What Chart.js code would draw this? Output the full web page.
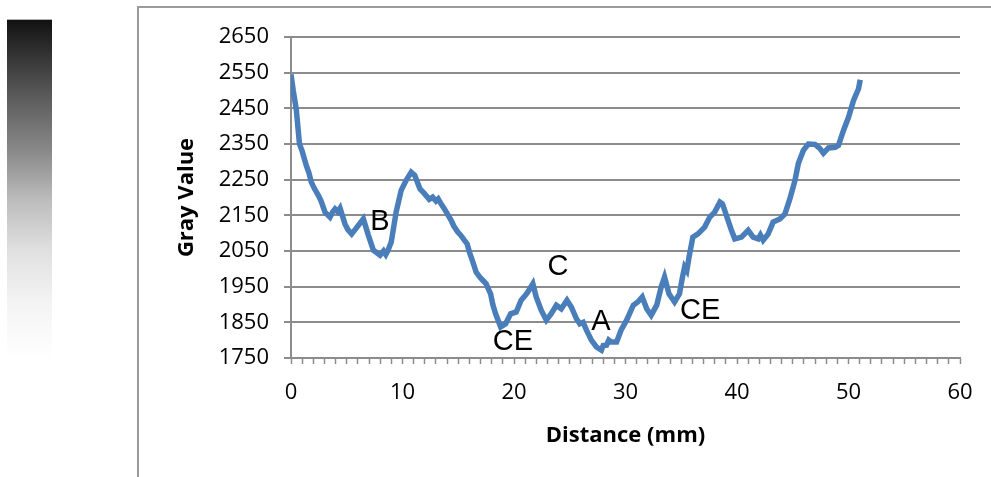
<!DOCTYPE html>
<html>
<head>
<meta charset="utf-8">
<script src="https://cdn.jsdelivr.net/npm/chart.js@4/dist/chart.umd.min.js"></script>
<style>
  html, body { margin: 0; padding: 0; background: #fff; }
  body { width: 991px; height: 477px; position: relative; overflow: hidden; }
  .scale_bar {
    position: absolute; left: 7px; top: 19px; width: 45px; height: 339px;
    border-top: 1px solid #b0b0b0;
    background: linear-gradient(to bottom, #121212 0%, #5f5f5f 24%, #8a8a8a 39%, #bcbcbc 53%, #e0e0e0 68%, #f3f3f3 83%, #ffffff 100%);
  }
  .frame {
    position: absolute; left: 137px; top: 6px; right: -5px; bottom: -5px;
    border-top: 2px solid #9a9a9a; border-left: 2px solid #9a9a9a;
  }
  .chart_box { position: absolute; left: 0; top: 0; width: 991px; height: 477px; }
</style>
</head>
<body>
<div class="scale_bar"></div>
<div class="frame"></div>
<div class="chart_box"><canvas id="profile" width="991" height="477"></canvas></div>
<script>
// 距離 (mm)
const distances = [
  0, 0.2, 0.47, 0.76, 1.0, 1.37, 1.6, 1.82, 2.1, 2.45, 2.7, 3.05, 3.5, 3.75, 3.95, 4.2, 4.4, 4.84,
  5.1, 5.44, 5.8, 6.04, 6.49, 6.94, 7.39, 7.7, 7.99, 8.3, 8.5, 8.7, 8.99, 9.43, 9.88, 10.33, 10.78,
  11.1, 11.57, 11.85, 12.1, 12.4, 12.7, 13.0, 13.2, 13.5, 13.76, 14.1, 14.36, 14.6, 14.96, 15.2,
  15.56, 15.8, 16.0, 16.3, 16.6, 16.93, 17.2, 17.5, 17.9, 18.1, 18.35, 18.8, 19.25, 19.7, 20.2,
  20.64, 21.0, 21.24, 21.69, 21.99, 22.44, 22.9, 23.34, 23.8, 24.24, 24.75, 25.14, 25.6, 25.9,
  26.2, 26.5, 26.94, 27.39, 27.84, 28.0, 28.3, 28.5, 28.7, 29.2, 29.6, 30.1, 30.7, 31.1, 31.5,
  31.9, 32.3, 32.8, 33.2, 33.5, 33.9, 34.4, 34.84, 35.1, 35.3, 35.5, 35.7, 36.04, 36.5, 37.1,
  37.56, 38.0, 38.47, 38.7, 39.2, 39.5, 39.8, 40.4, 41.0, 41.45, 41.9, 42.1, 42.35, 42.8, 43.24,
  43.84, 44.3, 44.74, 45.2, 45.5, 45.95, 46.4, 47.0, 47.45, 47.75, 48.2, 48.8, 49.1, 49.55, 50.0,
  50.45, 50.9, 51.05
];

// グレー値
const grayValues = [
  2545, 2500, 2448, 2350, 2330, 2290, 2270, 2243, 2225, 2206, 2190, 2159, 2145, 2160, 2168, 2160, 2170, 2126,
  2110, 2098, 2112, 2122, 2140, 2094, 2052, 2045, 2038, 2050, 2040, 2052, 2075, 2159, 2220, 2248, 2271,
  2262, 2224, 2215, 2206, 2195, 2201, 2190, 2196, 2180, 2168, 2150, 2136, 2120, 2103, 2095,
  2080, 2070, 2047, 2020, 1991, 1977, 1968, 1958, 1930, 1900, 1874, 1837, 1846, 1874, 1879,
  1912, 1925, 1935, 1958, 1921, 1884, 1856, 1874, 1898, 1888, 1912, 1893, 1860, 1846,
  1850, 1828, 1800, 1781, 1772, 1785, 1786, 1800, 1795, 1795, 1828, 1856, 1898, 1907, 1921,
  1888, 1870, 1898, 1949, 1977, 1930, 1907, 1930, 1975, 2005, 1995, 2033, 2089, 2098, 2117,
  2145, 2159, 2187, 2182, 2136, 2108, 2084, 2089, 2108, 2089, 2084, 2095, 2080, 2098, 2131,
  2140, 2154, 2196, 2248, 2295, 2332, 2350, 2349, 2337, 2324, 2339, 2341, 2346, 2388, 2425,
  2472, 2505, 2530
];

// 目盛り
const yTicks = [1750, 1850, 1950, 2050, 2150, 2250, 2350, 2450, 2550, 2650];
const xTicks = [];
for (let i = 0; i <= 60; i++) { xTicks.push(i); }

// 注記ラベル
const markTexts = ['B', 'C', 'CE', 'A', 'CE'];
const markX = [7.98, 23.95, 19.9, 27.8, 36.7];
const markY = [2130, 2004, 1794, 1850, 1881];

const points = distances.map((d, i) => ({ x: d, y: grayValues[i] }));

const gridGray = '#8c8c8c';
const tickFont = { family: "'Open Sans', 'Liberation Sans', sans-serif", size: 22 };
const titleFont = { family: "'Open Sans', 'Liberation Sans', sans-serif", size: 22, weight: 'bold' };

// 注記を描くプラグイン
const markPlugin = {
  id: 'marks',
  afterDatasetsDraw(chart) {
    const ctx = chart.ctx;
    const xs = chart.scales.x;
    const ys = chart.scales.y;
    ctx.save();
    ctx.fillStyle = '#000';
    ctx.font = "29px 'Liberation Sans', Arial, sans-serif";
    ctx.textAlign = 'center';
    ctx.textBaseline = 'middle';
    for (let i = 0; i < markTexts.length; i++) {
      ctx.fillText(markTexts[i], xs.getPixelForValue(markX[i]), ys.getPixelForValue(markY[i]));
    }
    ctx.restore();
  }
};

new Chart(document.getElementById('profile'), {
  type: 'line',
  data: {
    datasets: [{
      data: points,
      borderColor: '#4a7ebb',
      borderWidth: 5.5,
      pointRadius: 0,
      tension: 0,
      fill: false
    }]
  },
  options: {
    responsive: false,
    maintainAspectRatio: false,
    animation: false,
    layout: { padding: { left: 168, right: 31, top: 37, bottom: 24 } },
    plugins: { legend: { display: false }, tooltip: { enabled: false } },
    scales: {
      x: {
        type: 'linear',
        min: 0,
        max: 60,
        afterBuildTicks(scale) { scale.ticks = xTicks.map(v => ({ value: v })); },
        afterFit(scale) { scale.height = 95; },
        ticks: {
          autoSkip: false,
          maxRotation: 0,
          padding: 16,
          color: '#000',
          font: tickFont,
          callback: v => (v % 10 === 0 ? String(v) : '')
        },
        grid: {
          drawOnChartArea: false,
          drawTicks: true,
          tickLength: 6,
          tickColor: gridGray,
          tickWidth: 1.5
        },
        border: { color: gridGray, width: 2 },
        title: {
          display: true,
          text: 'Distance (mm)',
          color: '#000',
          font: titleFont,
          padding: { top: 6 }
        }
      },
      y: {
        min: 1750,
        max: 2650,
        afterBuildTicks(scale) { scale.ticks = yTicks.map(v => ({ value: v })); },
        afterFit(scale) { scale.width = 123; },
        ticks: {
          padding: 15,
          color: '#000',
          font: tickFont,
          callback: v => String(v)
        },
        grid: {
          color: gridGray,
          lineWidth: 2,
          tickLength: 7,
          tickColor: gridGray
        },
        border: { color: gridGray, width: 2 },
        title: {
          display: true,
          text: 'Gray Value',
          color: '#000',
          font: titleFont,
          padding: { top: 6 }
        }
      }
    }
  },
  plugins: [markPlugin]
});
</script>
</body>
</html>
